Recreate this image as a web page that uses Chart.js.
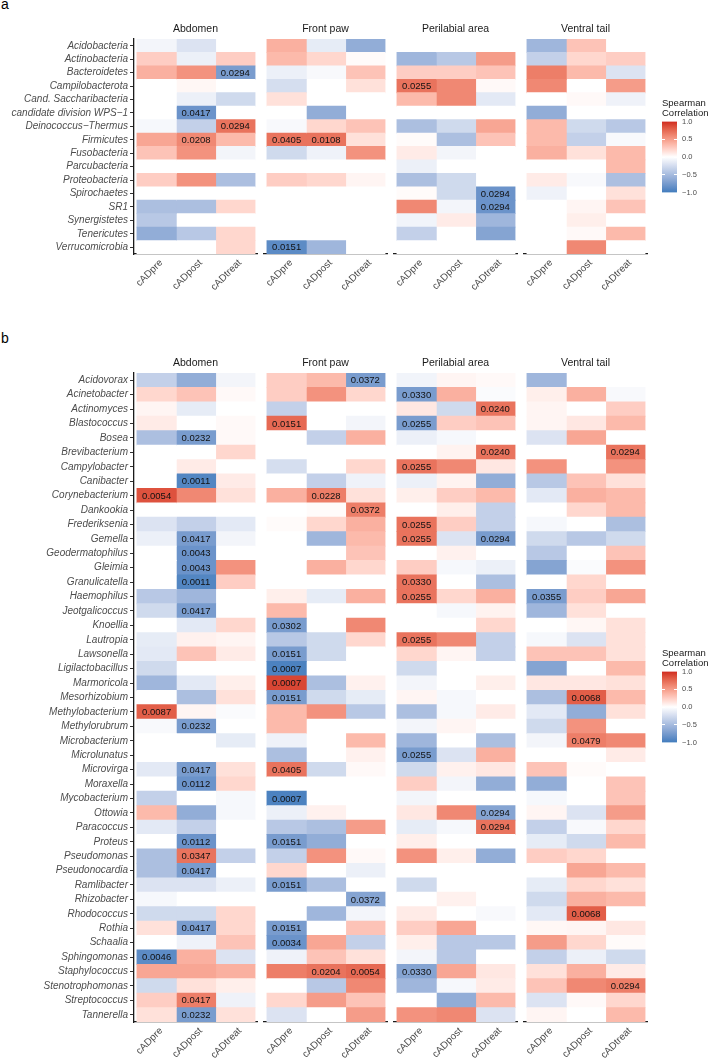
<!DOCTYPE html>
<html><head><meta charset="utf-8">
<script src="https://cdn.jsdelivr.net/npm/chart.js@4.4.1/dist/chart.umd.min.js"></script>
<style>
html,body{margin:0;padding:0;background:#fff;overflow:hidden;}
body{width:708px;height:1060px;position:relative;}
canvas{position:absolute;}
.tag{position:absolute;font:14px "Liberation Sans",Arial,Helvetica,sans-serif;line-height:14px;color:#000;}
</style></head><body>
<div class="tag" style="left:1px;top:-3px">a</div>
<div class="tag" style="left:1px;top:331px">b</div>
<script>
// ---------- categories ----------
const groups = ['cADpre', 'cADpost', 'cADtreat'];
const sites = ['Abdomen', 'Front paw', 'Perilabial area', 'Ventral tail'];
const phyla = ['Acidobacteria', 'Actinobacteria', 'Bacteroidetes', 'Campilobacterota', 'Cand. Saccharibacteria',
  'candidate division WPS\u22121', 'Deinococcus\u2212Thermus', 'Firmicutes', 'Fusobacteria', 'Parcubacteria',
  'Proteobacteria', 'Spirochaetes', 'SR1', 'Synergistetes', 'Tenericutes', 'Verrucomicrobia'];
const genera = ['Acidovorax', 'Acinetobacter', 'Actinomyces', 'Blastococcus', 'Bosea', 'Brevibacterium',
  'Campylobacter', 'Canibacter', 'Corynebacterium', 'Dankookia', 'Frederiksenia', 'Gemella', 'Geodermatophilus',
  'Gleimia', 'Granulicatella', 'Haemophilus', 'Jeotgalicoccus', 'Knoellia', 'Lautropia', 'Lawsonella',
  'Ligilactobacillus', 'Marmoricola', 'Mesorhizobium', 'Methylobacterium', 'Methylorubrum', 'Microbacterium',
  'Microlunatus', 'Microvirga', 'Moraxella', 'Mycobacterium', 'Ottowia', 'Paracoccus', 'Proteus', 'Pseudomonas',
  'Pseudonocardia', 'Ramlibacter', 'Rhizobacter', 'Rhodococcus', 'Rothia', 'Schaalia', 'Sphingomonas',
  'Staphylococcus', 'Stenotrophomonas', 'Streptococcus', 'Tannerella'];
const legendTicks = [-1, -0.5, 0, 0.5, 1];

// ---------- panel a : phylum-level Spearman correlations ----------
const aAbdPre    = [-0.07, 0.25, 0.4, 0, 0, 0, -0.05, 0.45, 0.3, 0, 0.25, 0, -0.47, -0.4, -0.61, 0];
const aAbdPost   = [-0.2, -0.11, 0.55, 0.04, -0.11, -0.81, -0.34, 0.6, 0.55, 0, 0.55, 0, -0.47, 0, -0.4, 0];
const aAbdTreat  = [0, 0.25, -0.74, 0, -0.27, 0, 0.7, 0.35, -0.07, 0, -0.47, 0, 0.2, 0, 0.2, 0.2];
const aPawPre    = [0.4, 0.35, -0.11, -0.24, 0.15, 0, -0.04, 0.7, -0.27, 0, 0.25, 0, 0, 0, 0, -0.88];
const aPawPost   = [-0.14, 0.2, -0.04, 0, 0, -0.61, 0.2, 0.7, -0.09, 0, 0.2, 0, 0, 0, 0, -0.54];
const aPawTreat  = [-0.61, 0.02, 0.3, 0.15, 0, 0, 0.3, 0.15, 0.55, 0, 0.05, 0, 0, 0, 0, 0];
const aPeriPre   = [0, -0.54, 0.25, 0.7, 0.35, 0, -0.47, 0.02, 0.1, -0.11, -0.47, 0.02, 0.6, -0.08, -0.34, 0];
const aPeriPost  = [0, -0.4, 0.25, 0.6, 0.6, 0, -0.27, -0.47, -0.07, 0, -0.27, -0.27, -0.07, 0.1, 0, 0];
const aPeriTreat = [0, 0.5, 0.3, 0.03, -0.16, 0, 0.45, 0.3, 0, 0, 0, -0.81, -0.81, -0.54, -0.68, 0];
const aTailPre   = [-0.54, -0.34, 0.65, 0.6, 0, -0.61, 0.35, 0.35, 0.4, 0, 0.1, -0.09, 0, 0, 0, 0];
const aTailPost  = [0.3, 0.2, 0.35, 0, 0.03, 0, -0.27, -0.34, 0.15, 0, -0.04, 0, 0.05, 0.08, 0.03, 0.6];
const aTailTreat = [0, 0.25, -0.2, 0.5, -0.09, 0, -0.4, -0.04, 0.35, 0.35, -0.47, 0.15, 0.3, 0, 0.35, 0];

const pLabelsA = [
  ['Abdomen', 'cADtreat', 'Bacteroidetes', '0.0294'],
  ['Abdomen', 'cADpost', 'candidate division WPS\u22121', '0.0417'],
  ['Abdomen', 'cADtreat', 'Deinococcus\u2212Thermus', '0.0294'],
  ['Abdomen', 'cADpost', 'Firmicutes', '0.0208'],
  ['Front paw', 'cADpre', 'Firmicutes', '0.0405'],
  ['Front paw', 'cADpost', 'Firmicutes', '0.0108'],
  ['Front paw', 'cADpre', 'Verrucomicrobia', '0.0151'],
  ['Perilabial area', 'cADpre', 'Campilobacterota', '0.0255'],
  ['Perilabial area', 'cADtreat', 'Spirochaetes', '0.0294'],
  ['Perilabial area', 'cADtreat', 'SR1', '0.0294']
];

// ---------- panel b : genus-level Spearman correlations ----------
const bAbdPre = [-0.34, 0.2, 0.05, 0.1, -0.47, 0, 0, 0, 0.85, 0, -0.2, -0.11, 0, 0, 0,
  -0.4, -0.27, 0, -0.14, -0.16, -0.27, -0.54, 0, 0.8, -0.04, 0, 0, -0.16, 0, -0.34,
  0.35, -0.16, 0, -0.47, -0.47, -0.2, -0.05, -0.27, 0.15, 0, -0.88, 0.45, -0.27, 0.25, 0.15];
const bAbdPost = [-0.61, 0.3, -0.14, 0, -0.74, 0, 0.1, -0.92, 0.6, 0, -0.34, -0.74, -0.81, -0.81, -0.92,
  -0.54, -0.74, -0.16, 0.07, 0.3, 0, -0.16, -0.47, 0.05, -0.74, 0, 0, -0.74, -0.81, 0,
  -0.61, -0.34, -0.81, 0.7, -0.74, -0.2, 0, -0.27, -0.74, -0.09, 0.4, 0.45, 0.15, 0.65, -0.74];
const bAbdTreat = [-0.07, 0.03, 0, 0.03, 0.03, 0.2, 0, 0.1, 0.15, 0, -0.16, -0.07, 0, 0.55, 0.25,
  0, 0, 0.2, 0.05, 0.1, 0, 0.08, 0.15, -0.03, 0, -0.14, 0, 0.15, 0.2, -0.05,
  -0.05, 0, 0, -0.34, 0, -0.11, 0, 0.2, 0.2, 0.3, -0.2, 0.4, 0.08, -0.09, 0.15];
const bPawPre = [0.25, 0.25, -0.34, 0.75, 0, 0, -0.24, 0, 0.4, 0, 0.02, 0, 0, 0, 0,
  0.08, 0.35, -0.74, -0.4, -0.74, -0.95, 0.9, -0.74, 0.35, 0.35, -0.09, -0.47, 0.7, 0, -0.95,
  -0.11, -0.4, -0.74, -0.34, 0.2, -0.74, 0, 0, -0.74, -0.81, -0.09, 0.65, 0, 0.2, -0.2];
const bPawPost = [0.35, 0.55, 0, 0, -0.34, 0, 0, -0.34, 0.65, 0.02, 0.2, -0.54, 0, 0.4, 0,
  -0.14, 0, 0, -0.27, -0.27, 0, -0.47, -0.27, 0.55, 0, 0, 0, -0.27, 0, 0,
  0.07, -0.47, -0.61, 0.55, 0, -0.47, 0, -0.54, 0, 0.45, 0.3, 0.7, -0.4, 0.5, 0];
const bPawTreat = [-0.74, 0.2, 0, -0.07, 0.4, 0, 0.2, -0.09, 0.15, 0.65, 0.4, 0.35, 0.3, 0.2, 0,
  0.4, 0, 0.6, 0.2, 0, 0, 0.07, -0.14, -0.4, 0, 0.35, 0.07, 0.03, 0, 0,
  0, 0.5, 0, 0.03, -0.11, 0, -0.68, -0.07, 0.3, -0.34, 0.15, 0.75, 0.6, 0.3, 0.5];
const bPeriPre = [-0.08, -0.74, 0.12, -0.74, -0.11, 0, 0.7, -0.11, 0.08, 0, 0.7, 0.7, 0, 0.25, 0.7,
  0.7, 0, 0, 0.7, 0.2, -0.27, -0.07, 0.05, -0.47, -0.07, -0.54, -0.74, -0.27, 0.25, -0.07,
  0.12, -0.14, 0.08, 0.55, 0, -0.27, 0, 0.1, 0.25, 0.08, -0.07, -0.68, -0.54, 0, 0.55];
const bPeriPost = [0.05, 0.4, -0.27, 0.25, -0.05, 0.06, 0.6, 0.06, 0.25, 0.08, 0.25, -0.2, 0.07, -0.05, 0,
  0.2, -0.05, 0, 0.6, 0.05, 0, 0, -0.05, -0.05, 0.05, 0, -0.2, 0.07, -0.07, 0,
  0.6, -0.05, 0, 0.08, 0, 0, 0.07, 0, 0.45, -0.4, -0.4, 0.45, -0.05, -0.61, 0.6];
const bPeriTreat = [0.03, -0.03, 0.7, 0.3, 0, 0.7, 0.12, -0.61, 0.35, -0.34, -0.34, -0.74, 0, -0.11, -0.47,
  0.4, 0.06, 0.2, -0.34, -0.34, 0, 0.08, 0, 0.1, 0, -0.47, 0.4, 0.12, -0.61, 0,
  -0.68, 0.7, 0, -0.61, 0, 0, 0, -0.04, 0, -0.4, 0, 0.12, 0.1, 0.35, -0.2];
const bTailPre = [-0.54, 0.08, 0.05, 0.05, -0.2, 0, 0.55, -0.4, -0.16, 0, -0.05, -0.27, -0.4, -0.68, 0,
  -0.74, -0.54, 0, -0.05, 0.3, -0.68, 0.12, -0.47, -0.16, -0.27, -0.07, 0, 0.3, -0.61, -0.05,
  0.05, -0.34, -0.14, 0.25, 0, -0.14, -0.27, -0.16, 0.04, 0.5, -0.34, 0.15, 0.3, -0.2, 0.05];
const bTailPost = [0, 0.4, 0, 0.12, 0.45, 0, 0, 0.3, 0.4, 0.2, 0, -0.4, 0, -0.03, 0.2,
  0.25, 0.15, 0.04, -0.2, 0.3, 0, 0.12, 0.8, -0.61, 0.55, 0.65, 0, 0.02, 0, 0,
  -0.2, -0.04, -0.27, 0.2, 0.45, 0.2, 0.4, 0.8, 0.05, 0.2, -0.11, 0.4, 0.6, 0.03, 0];
const bTailTreat = [0, -0.04, 0.25, 0.35, 0, 0.7, 0.55, 0.15, 0.35, 0.35, -0.47, -0.27, 0.3, 0.55, 0,
  0.45, 0, 0.15, 0.15, 0.15, 0.35, 0.15, 0.35, 0.15, 0, 0.6, 0.1, 0, 0.3, 0.3,
  0.5, 0.2, 0.35, 0, 0.35, 0.15, 0.35, 0, 0.12, 0.02, -0.27, 0.1, 0.65, 0.2, 0.35];

const pLabelsB = [
  ['Abdomen', 'cADpre', 'Corynebacterium', '0.0054'],
  ['Abdomen', 'cADpre', 'Methylobacterium', '0.0087'],
  ['Abdomen', 'cADpre', 'Sphingomonas', '0.0046'],
  ['Abdomen', 'cADpost', 'Bosea', '0.0232'],
  ['Abdomen', 'cADpost', 'Canibacter', '0.0011'],
  ['Abdomen', 'cADpost', 'Gemella', '0.0417'],
  ['Abdomen', 'cADpost', 'Geodermatophilus', '0.0043'],
  ['Abdomen', 'cADpost', 'Gleimia', '0.0043'],
  ['Abdomen', 'cADpost', 'Granulicatella', '0.0011'],
  ['Abdomen', 'cADpost', 'Jeotgalicoccus', '0.0417'],
  ['Abdomen', 'cADpost', 'Methylorubrum', '0.0232'],
  ['Abdomen', 'cADpost', 'Microvirga', '0.0417'],
  ['Abdomen', 'cADpost', 'Moraxella', '0.0112'],
  ['Abdomen', 'cADpost', 'Proteus', '0.0112'],
  ['Abdomen', 'cADpost', 'Pseudomonas', '0.0347'],
  ['Abdomen', 'cADpost', 'Pseudonocardia', '0.0417'],
  ['Abdomen', 'cADpost', 'Rothia', '0.0417'],
  ['Abdomen', 'cADpost', 'Streptococcus', '0.0417'],
  ['Abdomen', 'cADpost', 'Tannerella', '0.0232'],
  ['Front paw', 'cADpre', 'Blastococcus', '0.0151'],
  ['Front paw', 'cADpre', 'Knoellia', '0.0302'],
  ['Front paw', 'cADpre', 'Lawsonella', '0.0151'],
  ['Front paw', 'cADpre', 'Ligilactobacillus', '0.0007'],
  ['Front paw', 'cADpre', 'Marmoricola', '0.0007'],
  ['Front paw', 'cADpre', 'Mesorhizobium', '0.0151'],
  ['Front paw', 'cADpre', 'Microvirga', '0.0405'],
  ['Front paw', 'cADpre', 'Mycobacterium', '0.0007'],
  ['Front paw', 'cADpre', 'Proteus', '0.0151'],
  ['Front paw', 'cADpre', 'Ramlibacter', '0.0151'],
  ['Front paw', 'cADpre', 'Rothia', '0.0151'],
  ['Front paw', 'cADpre', 'Schaalia', '0.0034'],
  ['Front paw', 'cADpost', 'Corynebacterium', '0.0228'],
  ['Front paw', 'cADpost', 'Staphylococcus', '0.0204'],
  ['Front paw', 'cADtreat', 'Acidovorax', '0.0372'],
  ['Front paw', 'cADtreat', 'Dankookia', '0.0372'],
  ['Front paw', 'cADtreat', 'Rhizobacter', '0.0372'],
  ['Front paw', 'cADtreat', 'Staphylococcus', '0.0054'],
  ['Perilabial area', 'cADpre', 'Acinetobacter', '0.0330'],
  ['Perilabial area', 'cADpre', 'Blastococcus', '0.0255'],
  ['Perilabial area', 'cADpre', 'Campylobacter', '0.0255'],
  ['Perilabial area', 'cADpre', 'Frederiksenia', '0.0255'],
  ['Perilabial area', 'cADpre', 'Gemella', '0.0255'],
  ['Perilabial area', 'cADpre', 'Granulicatella', '0.0330'],
  ['Perilabial area', 'cADpre', 'Haemophilus', '0.0255'],
  ['Perilabial area', 'cADpre', 'Lautropia', '0.0255'],
  ['Perilabial area', 'cADpre', 'Microlunatus', '0.0255'],
  ['Perilabial area', 'cADpre', 'Staphylococcus', '0.0330'],
  ['Perilabial area', 'cADtreat', 'Actinomyces', '0.0240'],
  ['Perilabial area', 'cADtreat', 'Brevibacterium', '0.0240'],
  ['Perilabial area', 'cADtreat', 'Gemella', '0.0294'],
  ['Perilabial area', 'cADtreat', 'Ottowia', '0.0294'],
  ['Perilabial area', 'cADtreat', 'Paracoccus', '0.0294'],
  ['Ventral tail', 'cADpre', 'Haemophilus', '0.0355'],
  ['Ventral tail', 'cADpost', 'Mesorhizobium', '0.0068'],
  ['Ventral tail', 'cADpost', 'Microbacterium', '0.0479'],
  ['Ventral tail', 'cADpost', 'Rhodococcus', '0.0068'],
  ['Ventral tail', 'cADtreat', 'Brevibacterium', '0.0294'],
  ['Ventral tail', 'cADtreat', 'Stenotrophomonas', '0.0294']
];

// ---------- colour scale (diverging, Lab interpolation like ggplot gradient2) ----------
const LOW = '#3F7CBD', MID = '#FFFFFF', HIGH = '#D0291F';
function hexRgb(h) { return [1, 3, 5].map(i => parseInt(h.slice(i, i + 2), 16)); }
function toLin(c) { c /= 255; return c <= 0.04045 ? c / 12.92 : Math.pow((c + 0.055) / 1.055, 2.4); }
function fromLin(c) { const v = c <= 0.0031308 ? 12.92 * c : 1.055 * Math.pow(c, 1 / 2.4) - 0.055; return Math.round(Math.max(0, Math.min(1, v)) * 255); }
function rgbLab(rgb) {
  const [R, G, B] = rgb.map(toLin);
  const X = (0.4124 * R + 0.3576 * G + 0.1805 * B) / 0.95047;
  const Y = (0.2126 * R + 0.7152 * G + 0.0722 * B);
  const Z = (0.0193 * R + 0.1192 * G + 0.9505 * B) / 1.08883;
  const f = t => t > 0.008856 ? Math.cbrt(t) : 7.787 * t + 16 / 116;
  const fx = f(X), fy = f(Y), fz = f(Z);
  return [116 * fy - 16, 500 * (fx - fy), 200 * (fy - fz)];
}
function labRgb([L, a, b]) {
  const fy = (L + 16) / 116, fx = fy + a / 500, fz = fy - b / 200;
  const inv = t => (t * t * t > 0.008856 ? t * t * t : (t - 16 / 116) / 7.787);
  const X = inv(fx) * 0.95047, Y = inv(fy), Z = inv(fz) * 1.08883;
  const R = 3.2406 * X - 1.5372 * Y - 0.4986 * Z;
  const G = -0.9689 * X + 1.8758 * Y + 0.0415 * Z;
  const B = 0.0557 * X - 0.2040 * Y + 1.0570 * Z;
  return [fromLin(R), fromLin(G), fromLin(B)];
}
const labLow = rgbLab(hexRgb(LOW)), labMid = rgbLab(hexRgb(MID)), labHigh = rgbLab(hexRgb(HIGH));
function colorFor(v) {
  const t = Math.min(1, Math.abs(v));
  const end = v < 0 ? labLow : labHigh;
  const lab = labMid.map((m, i) => m + (end[i] - m) * t);
  const [r, g, b] = labRgb(lab);
  return `rgb(${r},${g},${b})`;
}

// ---------- layout constants ----------
const FONT = '"Liberation Sans", Arial, Helvetica, sans-serif';
Chart.defaults.font.family = FONT;
const AREA_LEFT = [134, 264, 394, 524];
const PLOT_W = 123;
const Y_AXIS_W = 130;
const TITLE_H = 29;
const LABEL_SHIFT = 0.12;

const cellLabels = {
  id: 'cellLabels',
  afterDatasetsDraw(chart) {
    const ctx = chart.ctx;
    ctx.save();
    ctx.font = '9.5px ' + FONT;
    ctx.fillStyle = '#111';
    ctx.textAlign = 'center';
    ctx.textBaseline = 'middle';
    chart.data.datasets.forEach((ds, i) => {
      const meta = chart.getDatasetMeta(i);
      (ds.pLabels || []).forEach((t, j) => {
        if (!t) return;
        const p = meta.data[j].getCenterPoint();
        ctx.fillText(t, p.x, p.y + 0.5);
      });
    });
    ctx.restore();
  }
};

function addCanvas(left, top, w, h) {
  const c = document.createElement('canvas');
  c.width = w; c.height = h;
  c.style.left = left + 'px'; c.style.top = top + 'px';
  c.style.width = w + 'px'; c.style.height = h + 'px';
  document.body.appendChild(c);
  return c;
}

function drawPanel(panel) {
  sites.forEach((site, f) => {
    const first = f === 0;
    const padL = first ? 4 : 14, padR = 8;
    const yW = first ? Y_AXIS_W : 0;
    const w = padL + yW + PLOT_W + padR;
    const h = TITLE_H + panel.plotH + panel.xAxisH;
    const canvas = addCanvas(AREA_LEFT[f] - padL - yW, panel.top, w, h);
    const datasets = groups.map((g, gi) => {
      const vals = panel.cols[f][gi];
      const labs = panel.taxa.map(t => {
        const hit = panel.labels.find(l => l[0] === site && l[1] === g && l[2] === t);
        return hit ? hit[3] : '';
      });
      return {
        label: g,
        data: vals.map(() => [gi, gi + 1]),
        backgroundColor: vals.map(colorFor),
        pLabels: labs,
        grouped: false,
        barPercentage: 1,
        categoryPercentage: 1,
        borderWidth: 0,
        inflateAmount: 0.4
      };
    });
    new Chart(canvas, {
      type: 'bar',
      data: { labels: panel.taxa, datasets },
      options: {
        indexAxis: 'y',
        responsive: false,
        animation: false,
        devicePixelRatio: 1,
        layout: { padding: { left: padL, right: padR, top: 0, bottom: 0 } },
        plugins: {
          legend: { display: false },
          tooltip: { enabled: false },
          title: {
            display: true, text: site, fullSize: false, color: '#1a1a1a',
            font: { size: 10.5, weight: 'normal', lineHeight: 1.2 },
            padding: { top: 12.7, bottom: 3.7 }
          }
        },
        scales: {
          x: {
            type: 'linear', min: -0.075, max: 3.05,
            afterBuildTicks: s => { s.ticks = groups.map((g, i) => ({ value: i + 0.5 + LABEL_SHIFT })); },
            afterFit: s => { s.height = panel.xAxisH; },
            ticks: {
              autoSkip: false, minRotation: 45, maxRotation: 45, padding: 3,
              color: '#4d4d4d', font: { size: 10 },
              callback: v => groups[Math.floor(v)]
            },
            grid: { display: false, drawTicks: false },
            border: { display: true, color: '#1a1a1a', width: 1.3 }
          },
          y: {
            type: 'category', display: first, offset: true,
            afterFit: s => { s.width = first ? Y_AXIS_W : 0; },
            ticks: { autoSkip: false, padding: 2, color: '#4d4d4d', font: { size: 10, style: 'italic' } },
            grid: { display: true, offset: false, drawOnChartArea: false, drawTicks: true, tickLength: 4, tickColor: '#333', tickWidth: 1 },
            border: { display: true, color: '#1a1a1a', width: 1.3 }
          }
        }
      },
      plugins: [cellLabels]
    });
  });
}

function drawLegend(top) {
  const canvas = addCanvas(662, top, 50, 112);
  new Chart(canvas, {
    type: 'bar',
    data: {
      labels: [''],
      datasets: [{
        data: [[legendTicks[0], legendTicks[legendTicks.length - 1]]],
        backgroundColor: c => {
          const a = c.chart.chartArea;
          if (!a) return '#fff';
          const g = c.chart.ctx.createLinearGradient(0, a.bottom, 0, a.top);
          for (let i = 0; i <= 40; i++) g.addColorStop(i / 40, colorFor(-1 + i / 20));
          return g;
        },
        barPercentage: 1, categoryPercentage: 1, borderWidth: 0
      }]
    },
    options: {
      responsive: false, animation: false, devicePixelRatio: 1,
      layout: { padding: { left: 0, right: 0, top: 0, bottom: 8 } },
      plugins: {
        legend: { display: false },
        tooltip: { enabled: false },
        title: {
          display: true, text: ['Spearman', 'Correlation'], align: 'start', color: '#1a1a1a',
          font: { size: 9.5, weight: 'normal', lineHeight: 1.1 },
          padding: { top: 7.8, bottom: 2.8 }
        }
      },
      scales: {
        x: { display: false },
        y: {
          position: 'right', min: -1, max: 1,
          afterBuildTicks: s => { s.ticks = legendTicks.map(v => ({ value: v })); },
          afterFit: s => { s.width = 35; },
          ticks: {
            padding: 5, color: '#4d4d4d', font: { size: 7.5 },
            callback: v => (v < 0 ? '\u2212' : '') + Math.abs(v).toFixed(1)
          },
          grid: {
            display: true, drawOnChartArea: true, drawTicks: false, lineWidth: 1, z: 1,
            color: c => (Math.abs(c.tick.value) > 0.99 ? 'rgba(0,0,0,0)' : '#ffffff')
          },
          border: { display: false, dash: [3, 9] }
        }
      }
    }
  });
}

drawPanel({
  taxa: phyla, labels: pLabelsA, top: 10, plotH: 215, xAxisH: 40,
  cols: [[aAbdPre, aAbdPost, aAbdTreat], [aPawPre, aPawPost, aPawTreat],
         [aPeriPre, aPeriPost, aPeriTreat], [aTailPre, aTailPost, aTailTreat]]
});
drawPanel({
  taxa: genera, labels: pLabelsB, top: 344, plotH: 649, xAxisH: 38,
  cols: [[bAbdPre, bAbdPost, bAbdTreat], [bPawPre, bPawPost, bPawTreat],
         [bPeriPre, bPeriPost, bPeriTreat], [bTailPre, bTailPost, bTailTreat]]
});
drawLegend(90);
drawLegend(640);
</script>
</body></html>
